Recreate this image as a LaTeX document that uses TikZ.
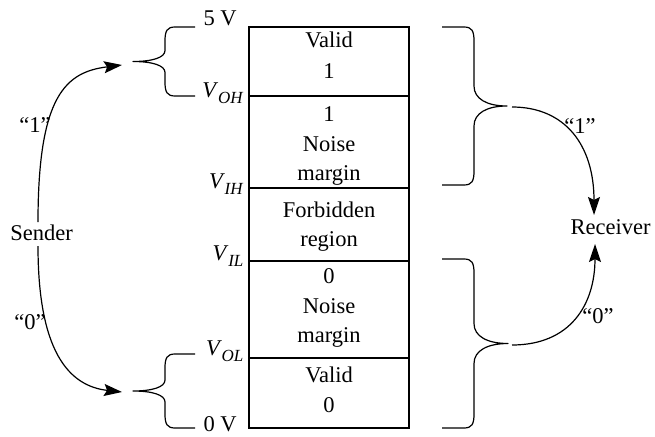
\documentclass[tikz,border=0pt]{standalone}
\usepackage{fontspec}
\setmainfont{Liberation Serif}
\usetikzlibrary{arrows.meta}
\newcommand{\vsub}[1]{\textit{V}\kern-0.3pt\raisebox{-6.5pt}{\fontsize{17}{17}\selectfont\textit{#1}}}
% #1 arm x, #2 back x, #3 tip x, #4 y1, #5 y2, #6 tip-curve height
\newcommand{\mybrace}[6]{%
  \pgfmathsetmacro{\bym}{(#4+#5)/2}%
  \pgfmathsetmacro{\bxa}{#2+10*sign(#1-#2)}%
  \pgfmathsetmacro{\bxb}{#2+2*sign(#1-#2)}%
  \pgfmathsetmacro{\bxt}{#2+0.4*(#3-#2)}%
  \pgfmathsetmacro{\byta}{\bym-#6}%
  \pgfmathsetmacro{\bytb}{\bym-0.35*#6}%
  \pgfmathsetmacro{\bytc}{\bym+0.35*#6}%
  \pgfmathsetmacro{\bytd}{\bym+#6}%
  \draw[brc] (#1,#4) -- (\bxa,#4) .. controls (\bxb,#4) and (#2,#4+4) .. (#2,#4+14)
    -- (#2,\byta) .. controls (#2,\bytb) and (\bxt,\bym) .. (#3,\bym)
    .. controls (\bxt,\bym) and (#2,\bytc) .. (#2,\bytd)
    -- (#2,#5-14) .. controls (#2,#5-4) and (\bxb,#5) .. (\bxa,#5) -- (#1,#5);%
}
\begin{document}
\begin{tikzpicture}[x=1pt,y=-1pt,line width=1.2pt,
  every node/.style={font=\fontsize{22.5}{27}\selectfont,inner sep=0pt},
  txt/.style={anchor=base},
  lbl/.style={anchor=base east},
  arr/.style={-{Stealth[length=18pt,width=12pt,inset=3pt]},line width=1.2pt},
  brc/.style={line width=1.2pt,line join=round}]
\useasboundingbox (0,0) rectangle (655,436);

% column box
\draw (249,27) rectangle (409,428);
\draw (249,96) -- (409,96);
\draw (249,188) -- (409,188);
\draw (249,261) -- (409,261);
\draw (249,358) -- (409,358);

% cell texts
\node[txt] (c1a) at (329,48) {Valid};
\node[txt] (c1b) at (329,78) {1};
\node[txt] (c2a) at (329,121.5) {1};
\node[txt] (c2b) at (329,151) {Noise};
\node[txt] (c2c) at (329,180.5) {margin};
\node[txt] (c3a) at (329,217) {Forbidden};
\node[txt] (c3b) at (329,246) {region};
\node[txt] (c4a) at (329,283) {0};
\node[txt] (c4b) at (329,313) {Noise};
\node[txt] (c4c) at (329,342) {margin};
\node[txt] (c5a) at (329,382) {Valid};
\node[txt] (c5b) at (329,412) {0};

% level labels
\node[anchor=base west] (v5) at (203,26) {5 V};
\node[lbl] (voh) at (244,97) {\vsub{OH}};
\node[lbl] (vih) at (244,188) {\vsub{IH}};
\node[lbl] (vil) at (244,260) {\vsub{IL}};
\node[lbl] (vol) at (244,355) {\vsub{OL}};
\node[anchor=base west] (v0) at (203,431) {0 V};

% braces
\mybrace{195}{165}{133}{27}{96}{11}
\mybrace{195}{165}{133}{354}{428}{11}
\mybrace{442}{474}{507}{27}{185}{20}
\mybrace{442}{474}{508}{259}{428}{20}

% sender / receiver
\node[txt] (snd) at (41.5,240) {Sender};
\node[txt] (rcv) at (610.5,234) {Receiver};
\coordinate (s1) at (38,222);
\coordinate (s2) at (38,246);
\coordinate (a1) at (122,65);
\coordinate (a2) at (122,392);
\coordinate (b1) at (512,107);
\coordinate (b2) at (512,345);
\coordinate (r1) at (594,215);
\coordinate (r2) at (595,244);

\draw[arr] (s1) .. controls (38,95) and (66,72) .. (a1);
\draw[arr] (s2) .. controls (38,350) and (68,386) .. (a2);
\draw[arr] (b1) .. controls (565,107) and (594,145) .. (r1);
\draw[arr] (b2) .. controls (570,345) and (595,305) .. (r2);

\node[txt] (q1l) at (35,132) {“1”};
\node[txt] (q0l) at (30,329) {“0”};
\node[txt] (q1r) at (580,133) {“1”};
\node[txt] (q0r) at (598,323) {“0”};
\end{tikzpicture}
\end{document}
